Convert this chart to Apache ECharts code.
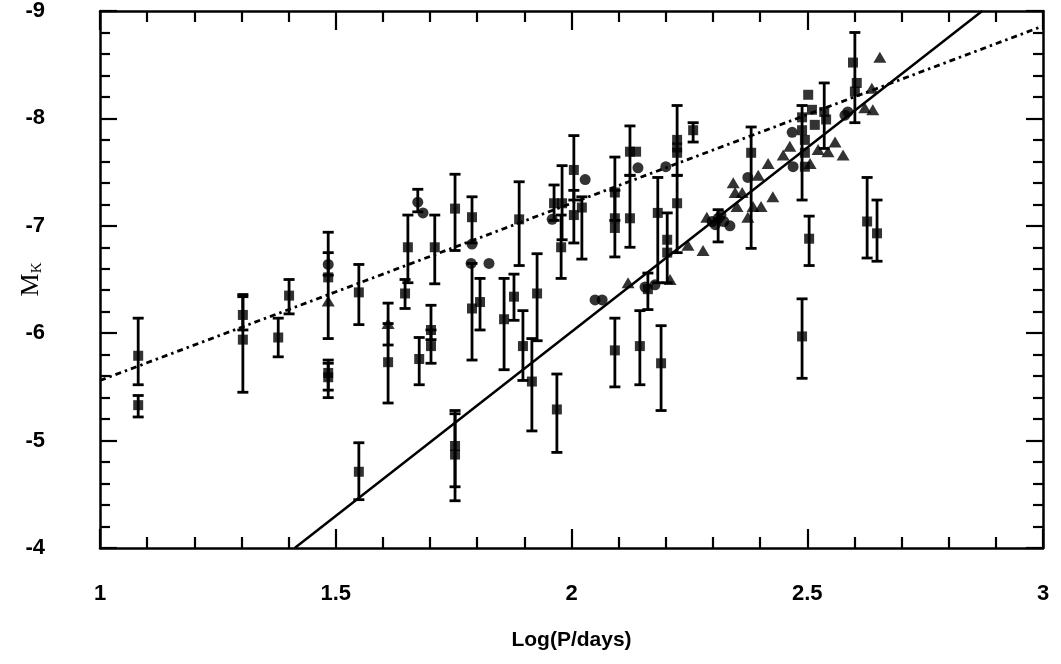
<!DOCTYPE html>
<html>
<head>
<meta charset="utf-8">
<script src="https://cdn.jsdelivr.net/npm/echarts@6/dist/echarts.min.js"></script>
<style>html,body{margin:0;padding:0;background:#fff;}#chart{width:1061px;height:664px;}</style>
</head>
<body>
<div id="chart"></div>
<script>
// ---- axis ticks ----
const xTicks = [1, 1.5, 2, 2.5, 3];
const yTicks = [-9, -8, -7, -6, -5, -4];

// ---- square markers ----
const squareX = [1.081,1.081,1.303,1.303,1.378,1.401,1.484,1.484,1.484,
  1.549,1.549,1.611,1.647,1.653,1.677,1.702,1.702,1.710,1.753,1.753,1.753,1.789,1.789,1.806,1.857,1.878,1.889,1.897,1.916,1.927,1.969,
  1.963,1.980,1.978,2.005,2.005,2.022,2.092,2.092,2.092,2.092,2.124,2.137,2.124,2.145,2.162,2.183,2.190,2.203,2.203,2.224,2.224,2.224,2.224,2.258,
  2.381,2.489,2.489,2.495,2.495,2.495,2.502,2.510,2.516,2.536,2.540,2.597,2.605,2.601,
  2.504,2.489,2.627,2.648];
const squareY = [-5.79,-5.33,-6.17,-5.94,-5.96,-6.35,-6.52,-5.59,-5.63,
  -6.38,-4.71,-5.73,-6.37,-6.80,-5.76,-6.03,-5.88,-6.80,-7.16,-4.95,-4.87,-7.08,-6.23,-6.29,-6.13,-6.34,-7.06,-5.88,-5.55,-6.37,-5.29,
  -7.21,-7.21,-6.80,-7.52,-7.10,-7.17,-7.31,-7.07,-6.98,-5.84,-7.69,-7.69,-7.07,-5.88,-6.41,-7.12,-5.72,-6.87,-6.75,-7.80,-7.73,-7.68,-7.21,-7.89,
  -7.68,-8.01,-7.89,-7.80,-7.68,-7.55,-8.22,-8.08,-7.94,-8.06,-7.99,-8.52,-8.33,-8.25,
  -6.88,-5.97,-7.04,-6.93];

// ---- circle markers ----
const circleX = [1.484,1.674,1.685,1.789,1.787,1.825,1.959,2.029,2.050,2.065,2.141,2.156,2.177,2.200,2.298,2.305,2.311,2.323,2.336,2.317,2.374,2.468,2.470,2.580,2.586];
const circleY = [-6.64,-7.22,-7.12,-6.83,-6.65,-6.65,-7.06,-7.43,-6.31,-6.31,-7.54,-6.43,-6.45,-7.55,-7.04,-7.01,-7.07,-7.04,-7.00,-7.10,-7.45,-7.87,-7.55,-8.03,-8.06];

// ---- triangle markers ----
const triX = [1.484,1.611,2.120,2.209,2.247,2.279,2.287,2.343,2.347,2.351,2.362,2.374,2.385,2.396,2.402,2.417,2.427,2.449,2.463,2.506,2.523,2.544,2.559,2.576,2.654,2.637,2.639,2.622];
const triY = [-6.30,-6.09,-6.47,-6.50,-6.82,-6.77,-7.08,-7.40,-7.31,-7.18,-7.31,-7.08,-7.18,-7.47,-7.18,-7.58,-7.27,-7.66,-7.74,-7.58,-7.71,-7.69,-7.78,-7.66,-8.57,-8.28,-8.08,-8.10];

// ---- error bars ----
const barX  = [1.081,1.081,1.303,1.303,1.378,1.401,1.484,1.484,1.484,1.484,
  1.549,1.549,1.611,1.611,1.647,1.653,1.674,1.677,1.702,1.702,1.710,1.753,1.753,1.753,1.789,1.789,1.806,1.857,1.878,1.889,1.897,1.916,1.927,1.969,
  1.963,1.980,1.978,2.005,2.005,2.022,2.092,2.092,2.092,2.124,2.124,2.145,2.162,2.183,2.190,2.203,2.224,2.224,2.258,2.311,2.381,2.489,2.536,2.601,2.504,2.489,2.627,2.648];
const barLo = [-6.14,-5.42,-6.36,-6.34,-6.14,-6.50,-6.75,-6.94,-5.75,-5.72,
  -6.64,-4.98,-6.28,-6.09,-6.50,-7.10,-7.34,-5.96,-6.26,-6.03,-7.10,-7.48,-5.28,-5.25,-7.27,-6.65,-6.51,-6.51,-6.55,-7.41,-6.21,-5.95,-6.74,-5.62,
  -7.38,-7.56,-7.10,-7.84,-7.33,-7.27,-7.64,-7.33,-6.14,-7.93,-7.47,-6.21,-6.56,-7.45,-6.07,-7.12,-8.12,-7.47,-7.96,-7.15,-7.92,-8.12,-8.33,-8.80,-7.09,-6.32,-7.45,-7.24];
const barHi = [-5.52,-5.22,-6.03,-5.45,-5.78,-6.18,-6.54,-5.95,-5.40,-5.47,
  -6.08,-4.45,-5.89,-5.35,-6.23,-6.47,-7.13,-5.52,-5.94,-5.72,-6.46,-6.77,-4.57,-4.44,-6.84,-5.75,-6.03,-5.66,-6.12,-6.63,-5.56,-5.09,-5.93,-4.89,
  -7.05,-6.87,-6.51,-7.24,-6.84,-6.69,-7.05,-6.71,-5.50,-7.47,-6.80,-5.52,-6.22,-6.47,-5.28,-6.47,-7.47,-6.75,-7.78,-6.85,-6.79,-7.24,-7.72,-7.96,-6.63,-5.58,-6.70,-6.67];

// ---- fitted relations ----
const dashFitX = [1, 3];
const dashFitY = [-5.56, -8.86];
const solidFitX = [1.413, 2.871];
const solidFitY = [-4.0, -9.0];

const zip = (a, b) => a.map((v, i) => [v, b[i]]);
const FONT = '"Liberation Sans Narrow","Liberation Sans",Arial,sans-serif';

const chart = echarts.init(document.getElementById('chart'), null, {renderer: 'canvas'});

const xStep = xTicks[1] - xTicks[0];
const yStep = yTicks[1] - yTicks[0];

function xAxisDef(pos, labels) {
  return {
    type: 'value', position: pos, min: xTicks[0], max: xTicks[xTicks.length - 1], interval: xStep,
    axisLine: {show: true, onZero: false, lineStyle: {color: '#000', width: 2.5}},
    axisTick: {show: true, inside: true, length: 19, lineStyle: {color: '#000', width: 2.2}},
    minorTick: {show: true, splitNumber: 5, length: 11, lineStyle: {color: '#000', width: 2.2}},
    splitLine: {show: false}, minorSplitLine: {show: false},
    axisLabel: {show: labels, color: '#000', fontFamily: FONT, fontWeight: 'bold', fontSize: 22, margin: 35},
    name: labels ? 'Log(P/days)' : '', nameLocation: 'middle', nameGap: 82, nameMoveOverlap: false,
    nameTextStyle: {color: '#000', fontFamily: FONT, fontWeight: 'bold', fontSize: 21}
  };
}
function yAxisDef(pos, labels) {
  return {
    type: 'value', position: pos, min: yTicks[0], max: yTicks[yTicks.length - 1], interval: yStep, inverse: true,
    axisLine: {show: true, onZero: false, lineStyle: {color: '#000', width: 2.5}},
    axisTick: {show: true, inside: true, length: 17, lineStyle: {color: '#000', width: 2.2}},
    minorTick: {show: true, splitNumber: 5, length: 10, lineStyle: {color: '#000', width: 2.2}},
    splitLine: {show: false}, minorSplitLine: {show: false},
    axisLabel: {show: labels, color: '#000', fontFamily: FONT, fontWeight: 'bold', fontSize: 22, margin: 55},
    name: labels ? '{m|M}{k|K}' : '', nameLocation: 'middle', nameGap: 55, nameRotate: 90, nameMoveOverlap: false,
    nameTextStyle: {color: '#000', fontFamily: '"Liberation Serif","DejaVu Serif",serif',
      rich: {m: {fontSize: 26, fontFamily: '"Liberation Serif",serif', color: '#000'},
             k: {fontSize: 15, fontFamily: '"Liberation Serif",serif', color: '#000', padding: [12, 0, 0, 0]}}}
  };
}

const barData = barX.map((x, i) => [x, barLo[i], barHi[i]]);

chart.setOption({
  animation: false,
  backgroundColor: '#fff',
  grid: {left: 100, right: 18, top: 11, bottom: 116, containLabel: false, outerBoundsMode: 'none'},
  xAxis: [xAxisDef('bottom', true), xAxisDef('top', false)],
  yAxis: [yAxisDef('left', true), yAxisDef('right', false)],
  series: [
    {
      type: 'custom', name: 'errors', xAxisIndex: 0, yAxisIndex: 0, z: 2,
      data: barData,
      encode: {x: 0, y: [1, 2]},
      renderItem: function (params, api) {
        const x = api.value(0), lo = api.value(1), hi = api.value(2);
        const p1 = api.coord([x, lo]);
        const p2 = api.coord([x, hi]);
        const w = 5.5;
        const st = {stroke: '#000', lineWidth: 2.8};
        return {type: 'group', children: [
          {type: 'line', shape: {x1: p1[0], y1: p1[1], x2: p2[0], y2: p2[1]}, style: st},
          {type: 'line', shape: {x1: p1[0] - w, y1: p1[1], x2: p1[0] + w, y2: p1[1]}, style: st},
          {type: 'line', shape: {x1: p2[0] - w, y1: p2[1], x2: p2[0] + w, y2: p2[1]}, style: st}
        ]};
      }
    },
    {
      type: 'line', name: 'dash fit', data: zip(dashFitX, dashFitY), symbol: 'none', z: 1,
      lineStyle: {color: '#000', width: 2.8, type: [6, 4, 2.5, 4]}
    },
    {
      type: 'line', name: 'solid fit', data: zip(solidFitX, solidFitY), symbol: 'none', z: 1,
      lineStyle: {color: '#000', width: 2.5}
    },
    {
      type: 'scatter', name: 'squares', data: zip(squareX, squareY), symbol: 'rect', symbolSize: 10, z: 3,
      itemStyle: {color: '#000'}
    },
    {
      type: 'scatter', name: 'circles', data: zip(circleX, circleY), symbol: 'circle', symbolSize: 11, z: 3,
      itemStyle: {color: '#000'}
    },
    {
      type: 'scatter', name: 'triangles', data: zip(triX, triY), symbol: 'triangle', symbolSize: [13, 11], z: 3,
      itemStyle: {color: '#000'}
    }
  ]
});
</script>
</body>
</html>
